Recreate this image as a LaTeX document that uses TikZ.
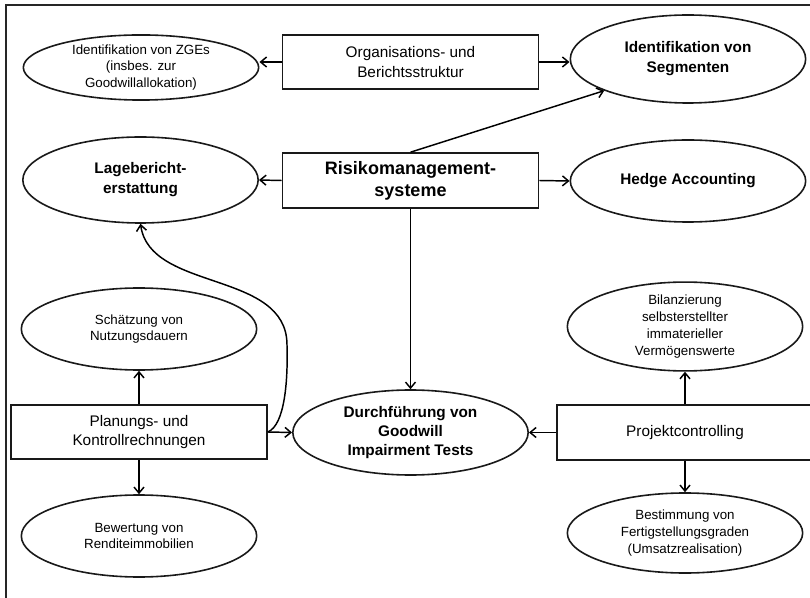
\documentclass[tikz,border=0pt]{standalone}
\usepackage{fontspec}
\setmainfont{Liberation Sans}
\usetikzlibrary{shapes.geometric,arrows.meta}

\begin{document}
\begin{tikzpicture}[
  x=0.75pt, y=-0.75pt,
  every node/.style={inner sep=0pt, align=center},
  stroke/.style={line width=1.2pt, draw=black!90},
  box/.style={stroke, rectangle, minimum width=192pt, minimum height=40.5pt,
    font=\fontsize{11.5}{14.5}\selectfont},
  ell/.style={stroke, ellipse, minimum width=176.5pt},
  smalltext/.style={font=\fontsize{10}{12.6}\selectfont},
  boldtext/.style={font=\bfseries\fontsize{11.5}{15}\selectfont},
  arr/.style={line width=1.1pt, -{Straight Barb[length=4.5pt,width=7.5pt]}},
]
\useasboundingbox (0,0) rectangle (810,598);
\clip (0,0) rectangle (810,598);

% outer frame (top and left edges)
\draw[line width=1.1pt, black!85] (6,598) -- (6,5) -- (812,5);

% top row
\node[ell, smalltext, minimum height=48.75pt] (zge) at (141,67.5)
  {Identifikation von ZGEs\\(insbes. zur\\Goodwillallokation)};
\node[box] (org) at (410.5,62) {Organisations- und\\Berichtsstruktur};
\node[ell, boldtext, minimum height=66pt] (seg) at (688,59)
  {Identifikation von\\Segmenten};

% second row
\node[ell, boldtext, minimum height=64.5pt] (lage) at (140.5,180)
  {Lagebericht-\\erstattung};
\node[box, minimum height=41.25pt, font=\bfseries\fontsize{13.5}{16.5}\selectfont]
  (risk) at (410.5,180.5) {Risikomanagement-\\systeme};
\node[ell, boldtext, minimum height=61.5pt] (hedge) at (688,181)
  {Hedge Accounting};

% lower left group
\node[ell, smalltext, minimum height=61.5pt] (nutz) at (139,329)
  {Schätzung von\\Nutzungsdauern};
\node[box] (plan) at (139,432) {Planungs- und\\Kontrollrechnungen};
\node[ell, smalltext, minimum height=61.5pt] (rend) at (139,536)
  {Bewertung von\\Renditeimmobilien};

% centre
\node[ell, font=\bfseries\fontsize{11.5}{14}\selectfont, minimum height=63.75pt]
  (good) at (410.5,432.5) {Durchführung von\\Goodwill\\Impairment Tests};

% lower right group
\node[ell, smalltext, minimum height=62.25pt] (bil) at (685,326.5)
  {Bilanzierung\\selbsterstellter\\immaterieller\\Vermögenswerte};
\node[box, minimum height=41.25pt] (proj) at (685,432.5) {Projektcontrolling};
\node[ell, smalltext, minimum height=60pt] (best) at (685,533)
  {Bestimmung von\\Fertigstellungsgraden\\(Umsatzrealisation)};

% connectors
\draw[arr] (org.west) -- (zge.east |- org.west);
\draw[arr] (org.east) -- (seg.west |- org.east);
\draw[arr] (risk.west) -- (lage.east);
\draw[arr] (risk.east) -- (hedge.west);
\draw[arr] (risk.north) -- (seg.south west);
\draw[arr] (risk.south) -- (good.north);
\draw[arr] (plan.east) -- (good.west);
\draw[arr] (plan.north) -- (nutz.south);
\draw[arr] (plan.south) -- (rend.north);
\draw[arr] (proj.west) -- (good.east);
\draw[arr] (proj.north) -- (bil.south);
\draw[arr] (proj.south) -- (best.north);
\draw[arr] (plan.east) .. controls (285,425) and (288,380) .. (287,345)
  .. controls (287,270) and (150,292) .. (lage.south);
\end{tikzpicture}
\end{document}
